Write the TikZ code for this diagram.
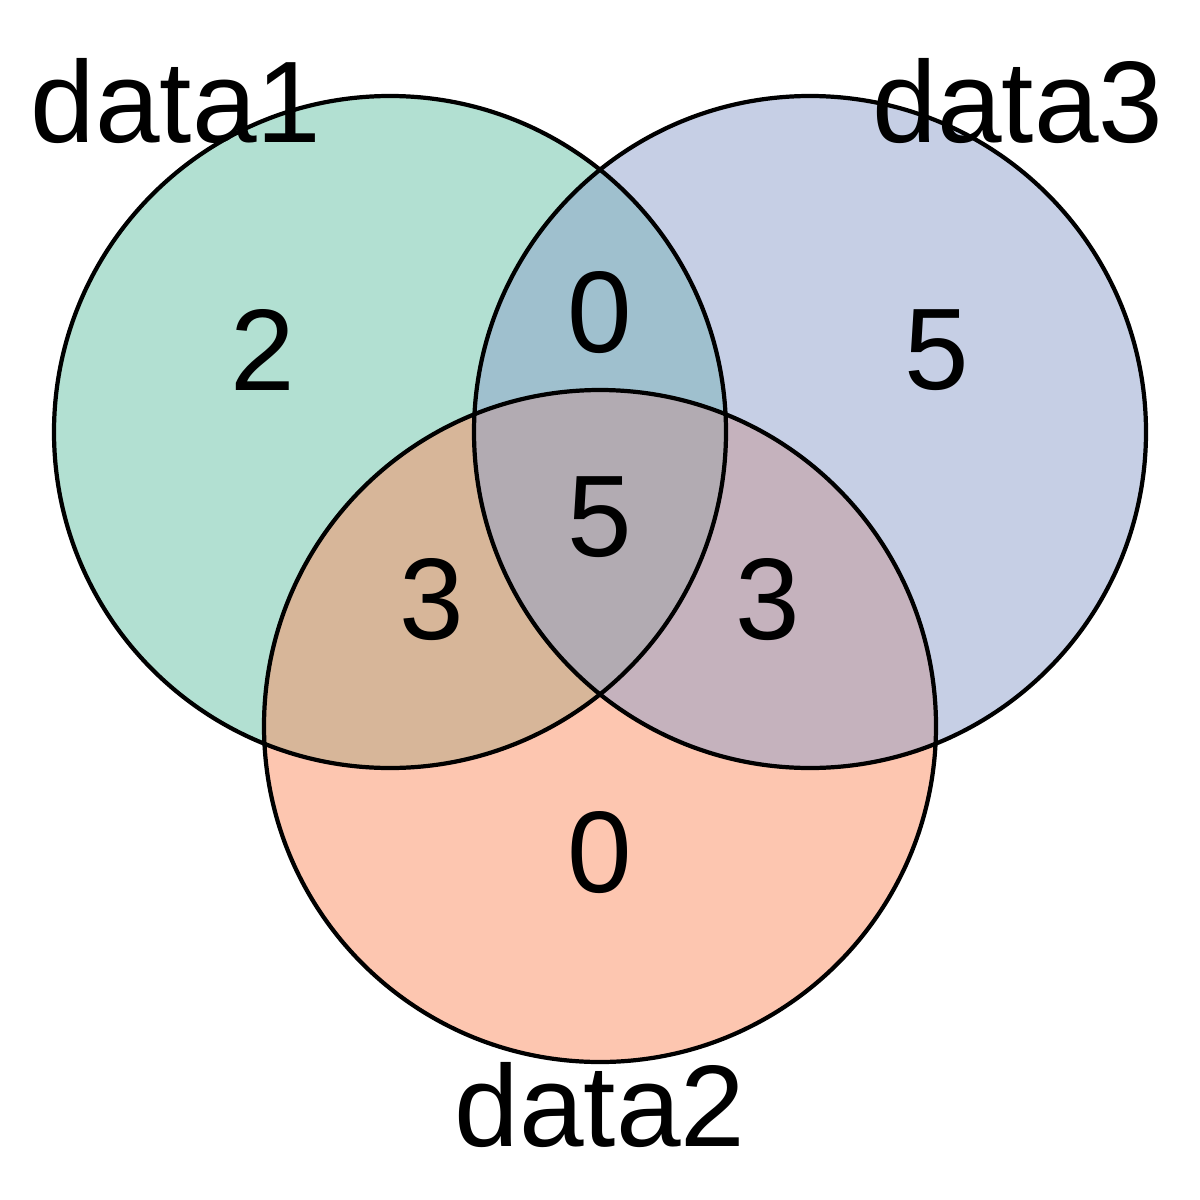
\documentclass[tikz,border=0pt]{standalone}
\usepackage{fontspec}
\setmainfont{Liberation Sans}
\definecolor{setA}{HTML}{66C2A5}
\definecolor{setB}{HTML}{FC8D62}
\definecolor{setC}{HTML}{8DA0CB}
\tikzset{
  vfill/.style={fill opacity=0.5},
  vline/.style={draw=black, line width=1.2pt},
  lbl/.style={font=\fontsize{33}{39}\selectfont, inner sep=0pt}
}
\begin{document}
\begin{tikzpicture}[x=0.01cm,y=-0.01cm]
\useasboundingbox (0,0) rectangle (1200,1200);
\coordinate (c1) at (390,432);
\coordinate (c3) at (810,432);
\coordinate (c2) at (600,726);
\fill[setA,vfill] (c1) circle[radius=336];
\fill[setB,vfill] (c2) circle[radius=336];
\fill[setC,vfill] (c3) circle[radius=336];
\draw[vline] (c1) circle[radius=336];
\draw[vline] (c2) circle[radius=336];
\draw[vline] (c3) circle[radius=336];
\node[lbl] (l1) at (176,101) {data1};
\node[lbl] (l3) at (1018,101) {data3};
\node[lbl] (l2) at (600,1105) {data2};
\node[lbl] (n1) at (263,350) {2};
\node[lbl] (n13) at (600,313) {0};
\node[lbl] (n3) at (937,350) {5};
\node[lbl] (n123) at (600,517) {5};
\node[lbl] (n12) at (432,600) {3};
\node[lbl] (n23) at (768,600) {3};
\node[lbl] (n2) at (600,853) {0};
\end{tikzpicture}
\end{document}
